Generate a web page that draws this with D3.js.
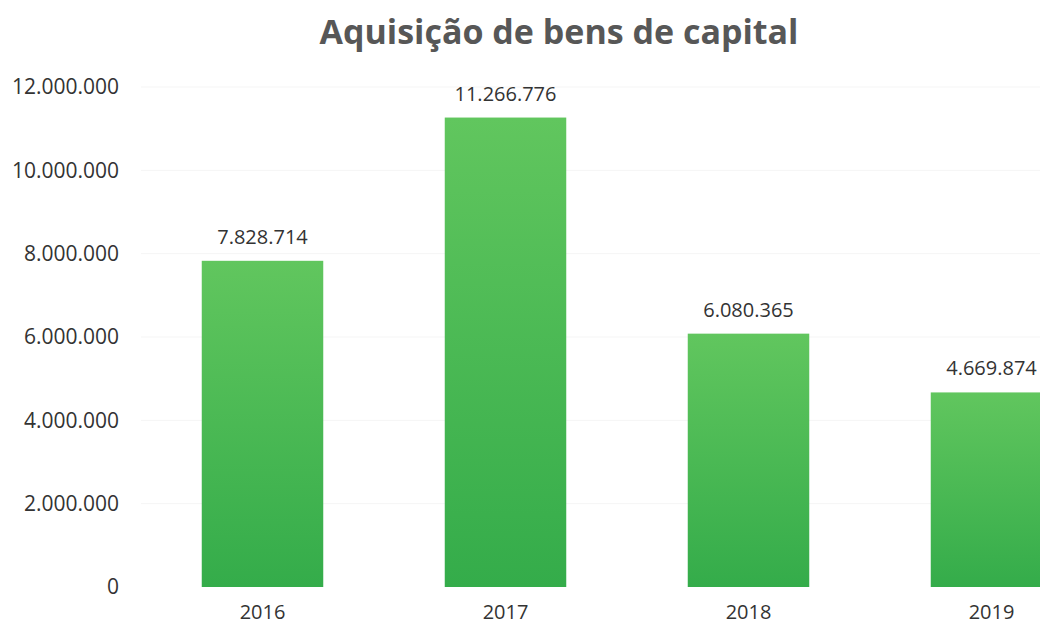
<!DOCTYPE html>
<html>
<head>
<meta charset="utf-8">
<script src="https://cdn.jsdelivr.net/npm/d3@7"></script>
<style>
  body { margin: 0; background: #fff; }
  text { font-family: "Open Sans", sans-serif; }
</style>
</head>
<body>
<div id="chart"></div>
<script>
// Dados do gráfico
const anos = ["2016", "2017", "2018", "2019"];
const valores = [7828714, 11266776, 6080365, 4669874];
const ticksY = [0, 2000000, 4000000, 6000000, 8000000, 10000000, 12000000];

const width = 1040;
const height = 629;

// Formato pt-BR (ponto como separador de milhar)
const locale = d3.formatLocale({ decimal: ",", thousands: ".", grouping: [3], currency: ["R$", ""] });
const fmt = locale.format(",d");

const svg = d3.select("#chart")
    .append("svg")
    .attr("width", width)
    .attr("height", height);

// Gradiente das barras (claro em cima, mais escuro embaixo)
const grad = svg.append("defs").append("linearGradient")
    .attr("id", "verde")
    .attr("x1", 0).attr("y1", 0).attr("x2", 0).attr("y2", 1);
grad.append("stop").attr("offset", "0%").attr("stop-color", "#61c65e");
grad.append("stop").attr("offset", "100%").attr("stop-color", "#34ac4a");

// Escalas (a área do gráfico passa da borda direita, como no original)
const x = d3.scaleBand()
    .domain(anos)
    .range([141, 1113])
    .paddingInner(0.5)
    .paddingOuter(0.25);

const y = d3.scaleLinear()
    .domain([0, 12000000])
    .range([587, 87]);

// Linhas de grade bem claras
svg.append("g")
    .selectAll("line")
    .data(ticksY.slice(1))
    .enter()
    .append("line")
    .attr("x1", 141)
    .attr("x2", width)
    .attr("y1", d => y(d))
    .attr("y2", d => y(d))
    .attr("stroke", "#f5f5f5")
    .attr("stroke-width", 1);

// Eixo Y (somente rótulos)
const eixoY = svg.append("g")
    .attr("transform", "translate(119,0)")
    .call(d3.axisLeft(y).tickValues(ticksY).tickFormat(fmt).tickSize(0).tickPadding(0));
eixoY.select(".domain").remove();
eixoY.selectAll("text")
    .style("font-size", "21px")
    .attr("fill", "#333");

// Eixo X (somente rótulos)
const eixoX = svg.append("g")
    .attr("transform", "translate(0,605)")
    .call(d3.axisBottom(x).tickSize(0).tickPadding(0));
eixoX.select(".domain").remove();
eixoX.selectAll("text")
    .style("font-size", "20px")
    .attr("fill", "#333");

// Barras
svg.selectAll(".barra")
    .data(anos)
    .enter()
    .append("rect")
    .attr("class", "barra")
    .attr("x", d => x(d))
    .attr("y", (d, i) => y(valores[i]))
    .attr("width", x.bandwidth())
    .attr("height", (d, i) => y(0) - y(valores[i]))
    .attr("fill", "url(#verde)");

// Rótulos de valor
svg.selectAll(".valor")
    .data(anos)
    .enter()
    .append("text")
    .attr("class", "valor")
    .attr("x", d => x(d) + x.bandwidth() / 2)
    .attr("y", (d, i) => y(valores[i]) - 17)
    .attr("text-anchor", "middle")
    .style("font-size", "20px")
    .attr("fill", "#333")
    .text((d, i) => fmt(valores[i]));

// Título
svg.append("text")
    .attr("x", 559)
    .attr("y", 44)
    .attr("text-anchor", "middle")
    .style("font-size", "34px")
    .style("font-weight", "bold")
    .attr("fill", "#575757")
    .text("Aquisição de bens de capital");
</script>
</body>
</html>
